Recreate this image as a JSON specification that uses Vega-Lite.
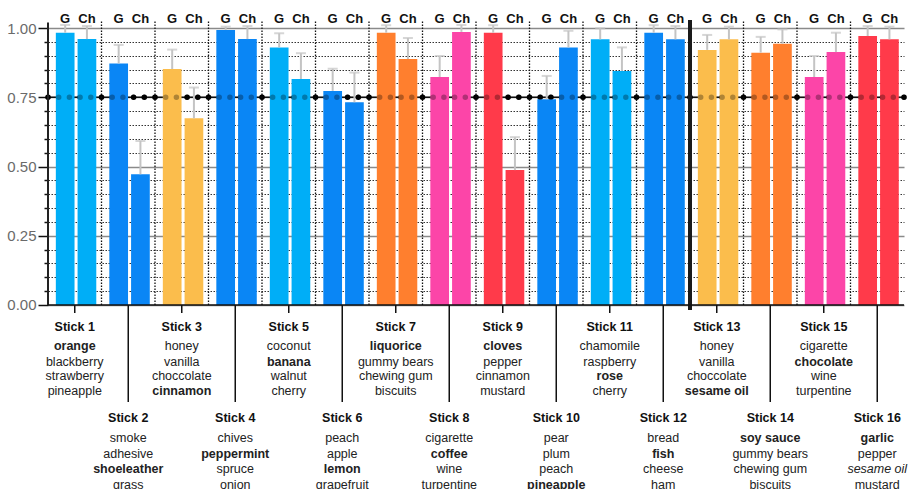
{
  "$schema": "https://vega.github.io/schema/vega-lite/v6.json",
  "width": 856,
  "height": 469,
  "autosize": {"type": "none"},
  "padding": {"left": 48, "top": 20, "right": 6, "bottom": 0},
  "config": {"view": {"stroke": null}, "font": "Liberation Sans"},
  "resolve": {"axis": {"y": "independent"}},
  "datasets": {
    "bars": [
      {"stick": 1, "test": "G", "score": 0.983, "upper": 1.011},
      {"stick": 1, "test": "Ch", "score": 0.960, "upper": 1.007},
      {"stick": 2, "test": "G", "score": 0.872, "upper": 0.939},
      {"stick": 2, "test": "Ch", "score": 0.472, "upper": 0.592},
      {"stick": 3, "test": "G", "score": 0.852, "upper": 0.922},
      {"stick": 3, "test": "Ch", "score": 0.674, "upper": 0.785},
      {"stick": 4, "test": "G", "score": 0.993, "upper": 1.005},
      {"stick": 4, "test": "Ch", "score": 0.960, "upper": 1.007},
      {"stick": 5, "test": "G", "score": 0.930, "upper": 0.981},
      {"stick": 5, "test": "Ch", "score": 0.816, "upper": 0.909},
      {"stick": 6, "test": "G", "score": 0.773, "upper": 0.853},
      {"stick": 6, "test": "Ch", "score": 0.732, "upper": 0.839},
      {"stick": 7, "test": "G", "score": 0.983, "upper": 1.010},
      {"stick": 7, "test": "Ch", "score": 0.888, "upper": 0.964},
      {"stick": 8, "test": "G", "score": 0.823, "upper": 0.899},
      {"stick": 8, "test": "Ch", "score": 0.986, "upper": 1.011},
      {"stick": 9, "test": "G", "score": 0.983, "upper": 1.010},
      {"stick": 9, "test": "Ch", "score": 0.487, "upper": 0.606},
      {"stick": 10, "test": "G", "score": 0.743, "upper": 0.827},
      {"stick": 10, "test": "Ch", "score": 0.930, "upper": 0.990},
      {"stick": 11, "test": "G", "score": 0.959, "upper": 0.999},
      {"stick": 11, "test": "Ch", "score": 0.845, "upper": 0.930},
      {"stick": 12, "test": "G", "score": 0.983, "upper": 1.010},
      {"stick": 12, "test": "Ch", "score": 0.959, "upper": 1.007},
      {"stick": 13, "test": "G", "score": 0.921, "upper": 0.975},
      {"stick": 13, "test": "Ch", "score": 0.959, "upper": 1.005},
      {"stick": 14, "test": "G", "score": 0.911, "upper": 0.968},
      {"stick": 14, "test": "Ch", "score": 0.943, "upper": 0.995},
      {"stick": 15, "test": "G", "score": 0.823, "upper": 0.899},
      {"stick": 15, "test": "Ch", "score": 0.913, "upper": 0.983},
      {"stick": 16, "test": "G", "score": 0.971, "upper": 1.007},
      {"stick": 16, "test": "Ch", "score": 0.959, "upper": 1.005}
    ],
    "sticks": [
      {"stick": 1, "name": "Stick 1", "w1": "orange", "w2": "blackberry", "w3": "strawberry", "w4": "pineapple", "answer": 1, "aside": 0},
      {"stick": 2, "name": "Stick 2", "w1": "smoke", "w2": "adhesive", "w3": "shoeleather", "w4": "grass", "answer": 3, "aside": 0},
      {"stick": 3, "name": "Stick 3", "w1": "honey", "w2": "vanilla", "w3": "choccolate", "w4": "cinnamon", "answer": 4, "aside": 0},
      {"stick": 4, "name": "Stick 4", "w1": "chives", "w2": "peppermint", "w3": "spruce", "w4": "onion", "answer": 2, "aside": 0},
      {"stick": 5, "name": "Stick 5", "w1": "coconut", "w2": "banana", "w3": "walnut", "w4": "cherry", "answer": 2, "aside": 0},
      {"stick": 6, "name": "Stick 6", "w1": "peach", "w2": "apple", "w3": "lemon", "w4": "grapefruit", "answer": 3, "aside": 0},
      {"stick": 7, "name": "Stick 7", "w1": "liquorice", "w2": "gummy bears", "w3": "chewing gum", "w4": "biscuits", "answer": 1, "aside": 0},
      {"stick": 8, "name": "Stick 8", "w1": "cigarette", "w2": "coffee", "w3": "wine", "w4": "turpentine", "answer": 2, "aside": 0},
      {"stick": 9, "name": "Stick 9", "w1": "cloves", "w2": "pepper", "w3": "cinnamon", "w4": "mustard", "answer": 1, "aside": 0},
      {"stick": 10, "name": "Stick 10", "w1": "pear", "w2": "plum", "w3": "peach", "w4": "pineapple", "answer": 4, "aside": 0},
      {"stick": 11, "name": "Stick 11", "w1": "chamomile", "w2": "raspberry", "w3": "rose", "w4": "cherry", "answer": 3, "aside": 0},
      {"stick": 12, "name": "Stick 12", "w1": "bread", "w2": "fish", "w3": "cheese", "w4": "ham", "answer": 2, "aside": 0},
      {"stick": 13, "name": "Stick 13", "w1": "honey", "w2": "vanilla", "w3": "choccolate", "w4": "sesame oil", "answer": 4, "aside": 0},
      {"stick": 14, "name": "Stick 14", "w1": "soy sauce", "w2": "gummy bears", "w3": "chewing gum", "w4": "biscuits", "answer": 1, "aside": 0},
      {"stick": 15, "name": "Stick 15", "w1": "cigarette", "w2": "chocolate", "w3": "wine", "w4": "turpentine", "answer": 2, "aside": 0},
      {"stick": 16, "name": "Stick 16", "w1": "garlic", "w2": "pepper", "w3": "sesame oil", "w4": "mustard", "answer": 1, "aside": 3}
    ]
  },
  "layer": [
    {
      "data": {"name": "sticks"},
      "transform": [{"filter": "datum.stick == 1"}],
      "mark": {"type": "rule", "color": "#111111", "strokeWidth": 1.5},
      "encoding": {
        "y": {
          "datum": 0.75,
          "type": "quantitative",
          "scale": {"domain": [-0.6643, 1.0289], "nice": false, "zero": false},
          "axis": {
            "orient": "left",
            "title": null,
            "values": [0, 0.25, 0.5, 0.75, 1],
            "format": ".2f",
            "domain": false,
            "labelFont": "Liberation Sans",
            "labelFontSize": 15,
            "labelColor": "#6a6a6a",
            "labelPadding": 2,
            "labelOverlap": false,
            "labelFlush": false,
            "tickColor": "#111111",
            "tickWidth": 1.5,
            "tickSize": 10,
            "grid": true,
            "gridColor": "#8a8a8a",
            "gridWidth": 1.5
          }
        }
      }
    },
    {
      "data": {"name": "sticks"},
      "transform": [{"filter": "datum.stick == 1"}],
      "mark": {"type": "rule", "color": "#000000", "strokeWidth": 5.5, "strokeCap": "round", "strokeDash": [0, 10.7]},
      "encoding": {
        "y": {
          "datum": 0.75,
          "type": "quantitative",
          "axis": {
            "orient": "left",
            "title": null,
            "values": [0.05, 0.1, 0.15, 0.2, 0.3, 0.35, 0.4, 0.45, 0.55, 0.6, 0.65, 0.7, 0.8, 0.85, 0.9, 0.95],
            "labels": false,
            "domain": false,
            "tickColor": "#111111",
            "tickWidth": 1.5,
            "tickSize": 4,
            "grid": true,
            "gridColor": "#333333",
            "gridDash": [1.5, 1.5],
            "gridWidth": 1
          }
        }
      }
    },
    {
      "data": {"name": "sticks"},
      "transform": [{"filter": "datum.stick > 1 && datum.stick != 13"}],
      "mark": {"type": "rule", "color": "#111111", "strokeWidth": 1.3, "strokeDash": [1.5, 1.5]},
      "encoding": {
        "x": {"field": "stick", "type": "ordinal", "bandPosition": 0, "scale": {"paddingInner": 0, "paddingOuter": 0}, "axis": null},
        "y": {"datum": 0, "type": "quantitative", "axis": null},
        "y2": {"datum": 1.029}
      }
    },
    {
      "data": {"name": "bars"},
      "mark": {"type": "bar"},
      "encoding": {
        "x": {"field": "stick", "type": "ordinal", "axis": null},
        "xOffset": {"field": "test", "type": "nominal", "sort": ["G", "Ch"], "scale": {"paddingInner": 0.14, "paddingOuter": 0.3, "align": 0.6}},
        "y": {"field": "score", "type": "quantitative", "axis": null},
        "y2": {"datum": 0},
        "color": {
          "field": "stick",
          "type": "ordinal",
          "legend": null,
          "scale": {
            "domain": [1, 2, 3, 4, 5, 6, 7, 8, 9, 10, 11, 12, 13, 14, 15, 16],
            "range": ["#00aef7", "#0a86f5", "#fbbd4c", "#0a86f5", "#00aef7", "#0a86f5", "#ff7f2e", "#fc45a8", "#ff3a4a", "#0a86f5", "#00aef7", "#0a86f5", "#fbbd4c", "#ff7f2e", "#fc45a8", "#ff3a4a"]
          }
        }
      }
    },
    {
      "data": {"name": "sticks"},
      "transform": [{"filter": "datum.stick == 1"}],
      "mark": {"type": "rule", "color": "#000000", "opacity": 0.3, "strokeWidth": 5.5, "strokeCap": "round", "strokeDash": [0, 10.7]},
      "encoding": {"y": {"datum": 0.75, "type": "quantitative", "axis": null}}
    },
    {
      "data": {"name": "bars"},
      "mark": {"type": "rule", "color": "#c4c4c4", "strokeWidth": 2},
      "encoding": {
        "x": {"field": "stick", "type": "ordinal", "axis": null},
        "xOffset": {"field": "test", "type": "nominal", "sort": ["G", "Ch"]},
        "y": {"field": "score", "type": "quantitative", "axis": null},
        "y2": {"field": "upper"}
      }
    },
    {
      "data": {"name": "bars"},
      "mark": {"type": "tick", "color": "#c4c4c4", "size": 10, "thickness": 2, "orient": "horizontal"},
      "encoding": {
        "x": {"field": "stick", "type": "ordinal", "axis": null},
        "xOffset": {"field": "test", "type": "nominal", "sort": ["G", "Ch"]},
        "y": {"field": "upper", "type": "quantitative", "axis": null}
      }
    },
    {
      "data": {"name": "bars"},
      "mark": {"type": "text", "font": "Liberation Sans", "fontSize": 13, "fontWeight": "bold", "baseline": "alphabetic", "align": "center", "color": "#111111"},
      "encoding": {
        "x": {"field": "stick", "type": "ordinal", "axis": null},
        "xOffset": {"field": "test", "type": "nominal", "sort": ["G", "Ch"]},
        "y": {"datum": 1.017, "type": "quantitative", "axis": null},
        "text": {"field": "test"}
      }
    },
    {
      "data": {"name": "sticks"},
      "transform": [{"filter": "datum.stick == 1"}],
      "mark": {"type": "rule", "color": "#222222", "strokeWidth": 2},
      "encoding": {
        "x": {"field": "stick", "type": "ordinal", "bandPosition": 0, "axis": null},
        "y": {"datum": 0, "type": "quantitative", "axis": null},
        "y2": {"datum": 1.02}
      }
    },
    {
      "data": {"name": "sticks"},
      "transform": [{"filter": "datum.stick == 13"}],
      "mark": {"type": "rule", "color": "#1a1a1a", "strokeWidth": 4},
      "encoding": {
        "x": {"field": "stick", "type": "ordinal", "bandPosition": 0, "axis": null},
        "y": {"datum": -0.018, "type": "quantitative", "axis": null},
        "y2": {"datum": 1.029}
      }
    },
    {
      "data": {"name": "sticks"},
      "transform": [{"filter": "datum.stick == 1"}],
      "mark": {"type": "rule", "color": "#111111", "strokeWidth": 1.5},
      "encoding": {"y": {"datum": 0, "type": "quantitative", "axis": null}}
    },
    {
      "data": {"name": "sticks"},
      "transform": [{"filter": "datum.stick % 2 == 1"}],
      "mark": {"type": "rule", "color": "#111111", "strokeWidth": 1.5},
      "encoding": {
        "x": {"field": "stick", "type": "ordinal", "axis": null},
        "y": {"datum": 0, "type": "quantitative", "axis": null},
        "y2": {"datum": -0.029}
      }
    },
    {
      "data": {"name": "sticks"},
      "transform": [{"filter": "datum.stick % 2 == 0"}],
      "mark": {"type": "rule", "color": "#111111", "strokeWidth": 1.5},
      "encoding": {
        "x": {"field": "stick", "type": "ordinal", "axis": null},
        "y": {"datum": 0, "type": "quantitative", "axis": null},
        "y2": {"datum": -0.35}
      }
    },
    {
      "data": {"name": "sticks"},
      "transform": [{"filter": "datum.stick % 2 == 1"}],
      "mark": {"type": "text", "fontSize": 12.5, "fontWeight": "bold", "baseline": "middle", "color": "#111111"},
      "encoding": {"x": {"field": "stick", "type": "ordinal", "axis": null}, "y": {"datum": -0.0783, "type": "quantitative", "axis": null}, "text": {"field": "name"}}
    },
    {
      "data": {"name": "sticks"},
      "transform": [{"filter": "datum.stick % 2 == 1"}],
      "mark": {"type": "text", "fontSize": 12.5, "baseline": "middle", "color": "#222222", "fontWeight": {"expr": "datum.answer == 1 ? 'bold' : 'normal'"}, "fontStyle": {"expr": "datum.aside == 1 ? 'italic' : 'normal'"}},
      "encoding": {"x": {"field": "stick", "type": "ordinal", "axis": null}, "y": {"datum": -0.148, "type": "quantitative", "axis": null}, "text": {"field": "w1"}}
    },
    {
      "data": {"name": "sticks"},
      "transform": [{"filter": "datum.stick % 2 == 1"}],
      "mark": {"type": "text", "fontSize": 12.5, "baseline": "middle", "color": "#222222", "fontWeight": {"expr": "datum.answer == 2 ? 'bold' : 'normal'"}, "fontStyle": {"expr": "datum.aside == 2 ? 'italic' : 'normal'"}},
      "encoding": {"x": {"field": "stick", "type": "ordinal", "axis": null}, "y": {"datum": -0.204, "type": "quantitative", "axis": null}, "text": {"field": "w2"}}
    },
    {
      "data": {"name": "sticks"},
      "transform": [{"filter": "datum.stick % 2 == 1"}],
      "mark": {"type": "text", "fontSize": 12.5, "baseline": "middle", "color": "#222222", "fontWeight": {"expr": "datum.answer == 3 ? 'bold' : 'normal'"}, "fontStyle": {"expr": "datum.aside == 3 ? 'italic' : 'normal'"}},
      "encoding": {"x": {"field": "stick", "type": "ordinal", "axis": null}, "y": {"datum": -0.258, "type": "quantitative", "axis": null}, "text": {"field": "w3"}}
    },
    {
      "data": {"name": "sticks"},
      "transform": [{"filter": "datum.stick % 2 == 1"}],
      "mark": {"type": "text", "fontSize": 12.5, "baseline": "middle", "color": "#222222", "fontWeight": {"expr": "datum.answer == 4 ? 'bold' : 'normal'"}, "fontStyle": {"expr": "datum.aside == 4 ? 'italic' : 'normal'"}},
      "encoding": {"x": {"field": "stick", "type": "ordinal", "axis": null}, "y": {"datum": -0.312, "type": "quantitative", "axis": null}, "text": {"field": "w4"}}
    },
    {
      "data": {"name": "sticks"},
      "transform": [{"filter": "datum.stick % 2 == 0"}],
      "mark": {"type": "text", "fontSize": 12.5, "fontWeight": "bold", "baseline": "middle", "color": "#111111"},
      "encoding": {"x": {"field": "stick", "type": "ordinal", "axis": null}, "y": {"datum": -0.409, "type": "quantitative", "axis": null}, "text": {"field": "name"}}
    },
    {
      "data": {"name": "sticks"},
      "transform": [{"filter": "datum.stick % 2 == 0"}],
      "mark": {"type": "text", "fontSize": 12.5, "baseline": "middle", "color": "#222222", "fontWeight": {"expr": "datum.answer == 1 ? 'bold' : 'normal'"}, "fontStyle": {"expr": "datum.aside == 1 ? 'italic' : 'normal'"}},
      "encoding": {"x": {"field": "stick", "type": "ordinal", "axis": null}, "y": {"datum": -0.481, "type": "quantitative", "axis": null}, "text": {"field": "w1"}}
    },
    {
      "data": {"name": "sticks"},
      "transform": [{"filter": "datum.stick % 2 == 0"}],
      "mark": {"type": "text", "fontSize": 12.5, "baseline": "middle", "color": "#222222", "fontWeight": {"expr": "datum.answer == 2 ? 'bold' : 'normal'"}, "fontStyle": {"expr": "datum.aside == 2 ? 'italic' : 'normal'"}},
      "encoding": {"x": {"field": "stick", "type": "ordinal", "axis": null}, "y": {"datum": -0.538, "type": "quantitative", "axis": null}, "text": {"field": "w2"}}
    },
    {
      "data": {"name": "sticks"},
      "transform": [{"filter": "datum.stick % 2 == 0"}],
      "mark": {"type": "text", "fontSize": 12.5, "baseline": "middle", "color": "#222222", "fontWeight": {"expr": "datum.answer == 3 ? 'bold' : 'normal'"}, "fontStyle": {"expr": "datum.aside == 3 ? 'italic' : 'normal'"}},
      "encoding": {"x": {"field": "stick", "type": "ordinal", "axis": null}, "y": {"datum": -0.593, "type": "quantitative", "axis": null}, "text": {"field": "w3"}}
    },
    {
      "data": {"name": "sticks"},
      "transform": [{"filter": "datum.stick % 2 == 0"}],
      "mark": {"type": "text", "fontSize": 12.5, "baseline": "middle", "color": "#222222", "fontWeight": {"expr": "datum.answer == 4 ? 'bold' : 'normal'"}, "fontStyle": {"expr": "datum.aside == 4 ? 'italic' : 'normal'"}},
      "encoding": {"x": {"field": "stick", "type": "ordinal", "axis": null}, "y": {"datum": -0.65, "type": "quantitative", "axis": null}, "text": {"field": "w4"}}
    }
  ]
}
